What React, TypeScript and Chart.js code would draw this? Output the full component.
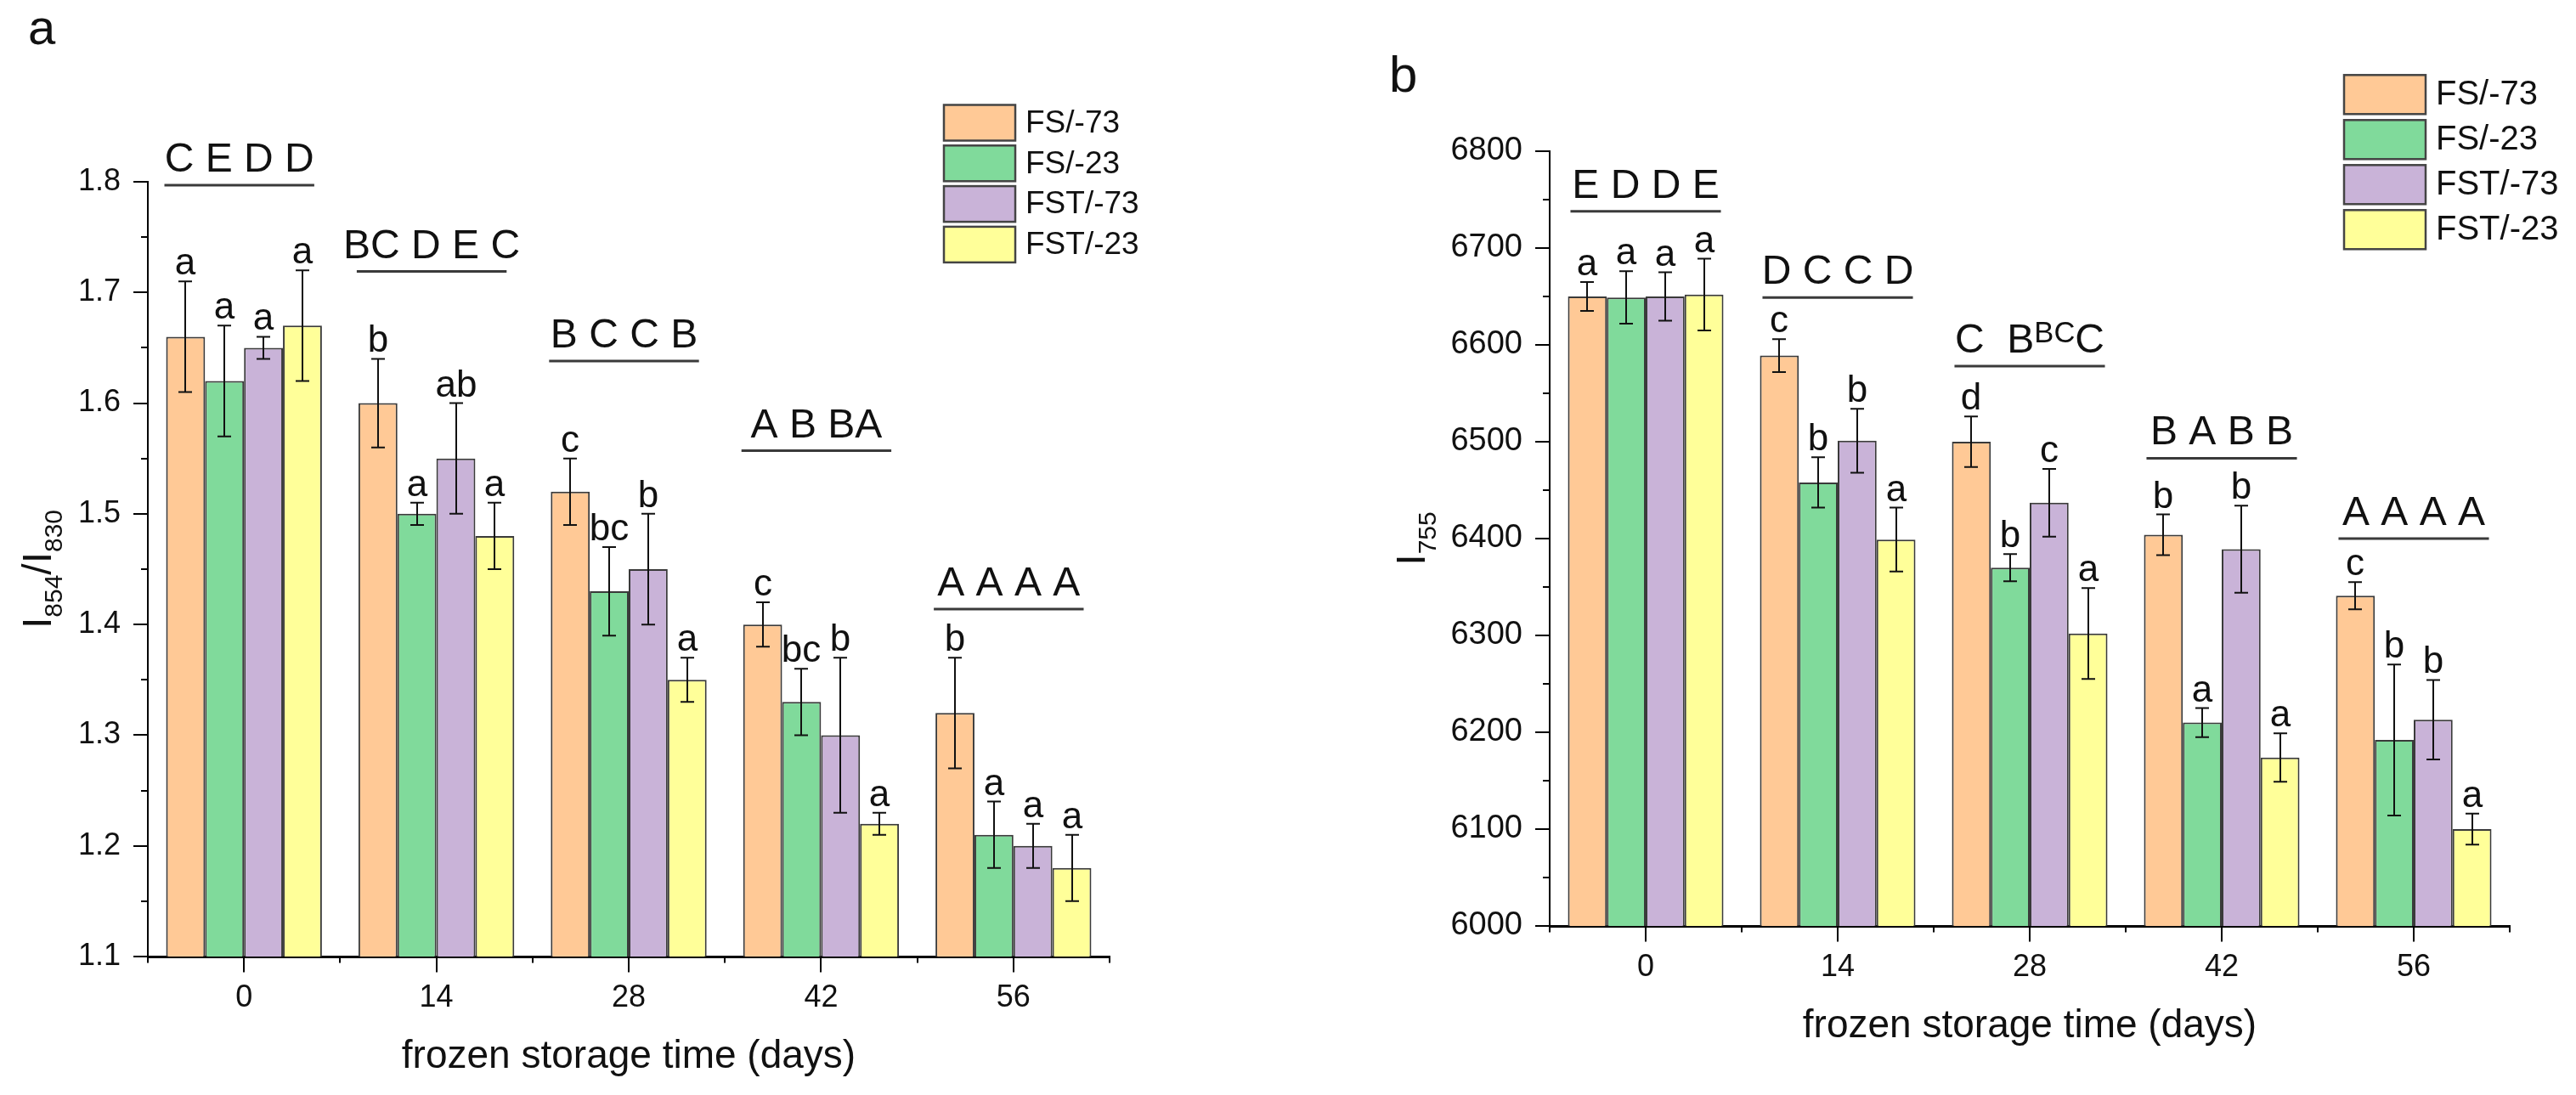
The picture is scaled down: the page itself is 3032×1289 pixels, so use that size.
import React, { useEffect, useRef } from "react";
import { Chart, registerables } from "chart.js";

Chart.register(...registerables);

const FONT = '"Liberation Sans", Arial, Helvetica, sans-serif';
Chart.defaults.font.family = FONT;

// ---------- shared ----------
const days = ["0", "14", "28", "42", "56"];
const seriesNames = ["FS/-73", "FS/-23", "FST/-73", "FST/-23"];
const seriesColors = ["#FFC996", "#80DA9B", "#C9B3D8", "#FFFF99"];
const xTitle = "frozen storage time (days)";

// ---------- panel a : I854/I830 ----------
const ratioFS73 = [1.66, 1.6, 1.52, 1.4, 1.32];
const ratioFS23 = [1.62, 1.5, 1.43, 1.33, 1.21];
const ratioFST73 = [1.65, 1.55, 1.45, 1.3, 1.2];
const ratioFST23 = [1.67, 1.48, 1.35, 1.22, 1.18];

const ratioErrFS73 = [0.05, 0.04, 0.03, 0.02, 0.05];
const ratioErrFS23 = [0.05, 0.01, 0.04, 0.03, 0.03];
const ratioErrFST73 = [0.01, 0.05, 0.05, 0.07, 0.02];
const ratioErrFST23 = [0.05, 0.03, 0.02, 0.01, 0.03];

const ratioLetFS73 = ["a", "b", "c", "c", "b"];
const ratioLetFS23 = ["a", "a", "bc", "bc", "a"];
const ratioLetFST73 = ["a", "ab", "b", "b", "a"];
const ratioLetFST23 = ["a", "a", "a", "a", "a"];

const ratioGroupLetters = ["C E D D", "BC D E C", "B C C B", "A B BA", "A A A A"];
const ratioGroupLevel = [1.797, 1.719, 1.638, 1.557, 1.414];
const ratioYTitle = ["I", "854", "/I", "830"];

// ---------- panel b : I755 ----------
const intFS73 = [6650, 6589, 6500, 6404, 6341];
const intFS23 = [6649, 6458, 6370, 6210, 6192];
const intFST73 = [6650, 6501, 6437, 6389, 6213];
const intFST23 = [6652, 6399, 6302, 6174, 6100];

const intErrFS73 = [15, 17, 26, 21, 14];
const intErrFS23 = [27, 26, 14, 15, 78];
const intErrFST73 = [25, 33, 35, 45, 41];
const intErrFST23 = [37, 33, 47, 25, 16];

const intLetFS73 = ["a", "c", "d", "b", "c"];
const intLetFS23 = ["a", "b", "b", "a", "b"];
const intLetFST73 = ["a", "b", "c", "b", "b"];
const intLetFST23 = ["a", "a", "a", "a", "a"];

const intGroupLetters = ["E D D E", "D C C D", "C  B^BC^C", "B A B B", "A A A A"];
const intGroupLevel = [6738, 6649, 6578, 6483, 6400];
const intYTitle = ["I", "755"];

type Spec = {
  id: string;
  panel: string;
  left: number;
  width: number;
  height: number;
  values: number[][];
  errors: number[][];
  letters: string[][];
  groupLetters: string[];
  groupLevel: number[];
  yTitle: string[];
  yMin: number;
  yMax: number;
  yStep: number;
  decimals: number;
  pad: { top: number; right: number; bottom: number };
  yAxisWidth: number;
  tickSize: number;
  yTitleBaseX: number;
  underlineOff: [number, number];
  legend: { x: number; y: number; w: number; h: number; step: number; font: number };
  panelLabel: { x: number; y: number; size: number };
};

const specA: Spec = {
  id: "a",
  panel: "a",
  left: 0,
  width: 1540,
  height: 1289,
  values: [ratioFS73, ratioFS23, ratioFST73, ratioFST23],
  errors: [ratioErrFS73, ratioErrFS23, ratioErrFST73, ratioErrFST23],
  letters: [ratioLetFS73, ratioLetFS23, ratioLetFST73, ratioLetFST23],
  groupLetters: ratioGroupLetters,
  groupLevel: ratioGroupLevel,
  yTitle: ratioYTitle,
  yMin: 1.1,
  yMax: 1.8,
  yStep: 0.1,
  decimals: 1,
  pad: { top: 214, right: 234, bottom: 13 },
  yAxisWidth: 174,
  tickSize: 36,
  yTitleBaseX: 60,
  underlineOff: [-2, -9],
  legend: { x: 1111, y: 123.5, w: 84, h: 42, step: 47.8, font: 37 },
  panelLabel: { x: 33, y: 52, size: 58 },
};

const specB: Spec = {
  id: "b",
  panel: "b",
  left: 1540,
  width: 1492,
  height: 1289,
  values: [intFS73, intFS23, intFST73, intFST23],
  errors: [intErrFS73, intErrFS23, intErrFST73, intErrFST23],
  letters: [intLetFS73, intLetFS23, intLetFST73, intLetFST23],
  groupLetters: intGroupLetters,
  groupLevel: intGroupLevel,
  yTitle: intYTitle,
  yMin: 6000,
  yMax: 6800,
  yStep: 100,
  decimals: 0,
  pad: { top: 178, right: 78, bottom: 49 },
  yAxisWidth: 284,
  tickSize: 38,
  yTitleBaseX: 137,
  underlineOff: [3, -3],
  legend: { x: 1219, y: 88.3, w: 96, h: 46, step: 53, font: 40 },
  panelLabel: { x: 95, y: 108, size: 60 },
};

function font(size: number) {
  return `${size}px ${FONT}`;
}

function drawMarkup(ctx: CanvasRenderingContext2D, text: string, cx: number, baseY: number, size: number) {
  const parts = text.split("^");
  const sizes = parts.map((_, k) => (k % 2 ? size * 0.72 : size));
  const widths = parts.map((p, k) => {
    ctx.font = font(sizes[k]);
    return ctx.measureText(p).width;
  });
  const total = widths.reduce((a, b) => a + b, 0);
  let x = cx - total / 2;
  ctx.textAlign = "left";
  ctx.textBaseline = "alphabetic";
  parts.forEach((p, k) => {
    ctx.font = font(sizes[k]);
    ctx.fillText(p, x, k % 2 ? baseY - 12 : baseY);
    x += widths[k];
  });
}

function makePlugin(s: Spec) {
  return {
    id: "annot" + s.id,
    afterDatasetsDraw(chart: any) {
      const ctx: CanvasRenderingContext2D = chart.ctx;
      const ys = chart.scales.y;
      ctx.save();
      ctx.strokeStyle = "#111";
      ctx.fillStyle = "#111";
      ctx.lineWidth = 2;
      s.values.forEach((vals, di) => {
        const meta = chart.getDatasetMeta(di);
        meta.data.forEach((bar: any, i: number) => {
          const v = vals[i];
          const e = s.errors[di][i];
          const x = Math.round(bar.x);
          const yt = ys.getPixelForValue(v + e);
          const yb = ys.getPixelForValue(v - e);
          ctx.beginPath();
          ctx.moveTo(x, yt);
          ctx.lineTo(x, yb);
          ctx.moveTo(x - 8, yt);
          ctx.lineTo(x + 8, yt);
          ctx.moveTo(x - 8, yb);
          ctx.lineTo(x + 8, yb);
          ctx.stroke();
          ctx.font = font(44);
          ctx.textAlign = "center";
          ctx.textBaseline = "alphabetic";
          ctx.fillText(s.letters[di][i], x, yt - 8);
        });
      });
      ctx.restore();
    },
    afterDraw(chart: any) {
      const ctx: CanvasRenderingContext2D = chart.ctx;
      const xs = chart.scales.x;
      const ys = chart.scales.y;
      const area = chart.chartArea;
      ctx.save();
      ctx.strokeStyle = "#000";
      ctx.lineWidth = 2;
      // x ticks: major at category centres, minor at boundaries
      const axisY = area.bottom + 1.5;
      for (let i = 0; i < days.length; i++) {
        const px = Math.round(xs.getPixelForValue(i));
        ctx.beginPath();
        ctx.moveTo(px, axisY);
        ctx.lineTo(px, axisY + 17);
        ctx.stroke();
      }
      for (let i = 0; i <= days.length; i++) {
        const px = Math.round(xs.getPixelForValue(i - 0.5));
        ctx.beginPath();
        ctx.moveTo(px, axisY);
        ctx.lineTo(px, axisY + 6);
        ctx.stroke();
      }
      // y ticks: major at labelled steps, minor halfway
      const nHalf = Math.round(((s.yMax - s.yMin) / s.yStep) * 2);
      for (let k = 0; k <= nHalf; k++) {
        const v = s.yMin + (k * s.yStep) / 2;
        const py = Math.round(ys.getPixelForValue(v));
        const len = k % 2 === 0 ? 16 : 7;
        ctx.beginPath();
        ctx.moveTo(area.left - 1, py);
        ctx.lineTo(area.left - 1 - len, py);
        ctx.stroke();
      }

      // group letters and underline
      ctx.fillStyle = "#111";
      const first = chart.getDatasetMeta(0).data;
      const last = chart.getDatasetMeta(s.values.length - 1).data;
      for (let i = 0; i < days.length; i++) {
        const l = first[i].x - first[i].width / 2 + s.underlineOff[0];
        const r = last[i].x + last[i].width / 2 + s.underlineOff[1];
        const py = ys.getPixelForValue(s.groupLevel[i]);
        ctx.strokeStyle = "#3a3a3a";
        ctx.lineWidth = 3;
        ctx.beginPath();
        ctx.moveTo(l, py);
        ctx.lineTo(r, py);
        ctx.stroke();
        drawMarkup(ctx, s.groupLetters[i], (l + r) / 2, py - 16, 48);
      }

      // y title with subscripts
      const mainSize = 48;
      const subSize = 30;
      const segW = s.yTitle.map((t, k) => {
        ctx.font = font(k % 2 ? subSize : mainSize);
        return ctx.measureText(t).width;
      });
      const totW = segW.reduce((a, b) => a + b, 0);
      const cy = (area.top + area.bottom) / 2;
      ctx.save();
      ctx.translate(s.yTitleBaseX, cy);
      ctx.rotate(-Math.PI / 2);
      ctx.textAlign = "left";
      ctx.textBaseline = "alphabetic";
      let u = -totW / 2;
      s.yTitle.forEach((t, k) => {
        ctx.font = font(k % 2 ? subSize : mainSize);
        ctx.fillText(t, u, k % 2 ? 13 : 0);
        u += segW[k];
      });
      ctx.restore();

      // legend
      const lg = s.legend;
      seriesNames.forEach((name, k) => {
        const by = lg.y + k * lg.step;
        ctx.fillStyle = seriesColors[k];
        ctx.fillRect(lg.x, by, lg.w, lg.h);
        ctx.strokeStyle = "#444";
        ctx.lineWidth = 2.5;
        ctx.strokeRect(lg.x, by, lg.w, lg.h);
        ctx.fillStyle = "#111";
        ctx.font = font(lg.font);
        ctx.textAlign = "left";
        ctx.textBaseline = "middle";
        ctx.fillText(name, lg.x + lg.w + 12, by + lg.h / 2 + 1);
      });

      // panel label
      ctx.fillStyle = "#111";
      ctx.font = font(s.panelLabel.size);
      ctx.textAlign = "left";
      ctx.textBaseline = "alphabetic";
      ctx.fillText(s.panel, s.panelLabel.x, s.panelLabel.y);
      ctx.restore();
    },
  };
}

function Panel({ s }: { s: Spec }) {
  const ref = useRef<HTMLCanvasElement>(null);
  useEffect(() => {
    if (!ref.current) return;
    const chart = new Chart(ref.current, {
      type: "bar",
      data: {
        labels: days,
        datasets: seriesNames.map((name, k) => ({
          label: name,
          data: s.values[k],
          backgroundColor: seriesColors[k],
          borderColor: "#3a3a3a",
          borderWidth: 2,
          categoryPercentage: 0.81,
          barPercentage: 1,
        })),
      },
      options: {
        animation: false,
        responsive: true,
        maintainAspectRatio: false,
        layout: { padding: { left: 0, top: s.pad.top, right: s.pad.right, bottom: s.pad.bottom } },
        plugins: { legend: { display: false }, tooltip: { enabled: false }, title: { display: false } },
        scales: {
          x: {
            type: "category",
            offset: true,
            grid: { display: false, drawTicks: false },
            border: { display: true, color: "#000", width: 3 },
            ticks: { color: "#111", font: { size: 36 }, padding: 27, maxRotation: 0, autoSkip: false },
            title: {
              display: true,
              text: xTitle,
              color: "#111",
              font: { size: 46 },
              padding: { top: 0, bottom: 4 },
            },
            afterFit: (sc: any) => {
              sc.height = 150;
            },
          },
          y: {
            type: "linear",
            min: s.yMin,
            max: s.yMax,
            grid: { display: false, drawTicks: false },
            border: { display: true, color: "#000", width: 2 },
            ticks: {
              stepSize: s.yStep,
              color: "#111",
              font: { size: s.tickSize },
              padding: 32,
              callback: (v: any) => Number(v).toFixed(s.decimals),
            },
            afterFit: (sc: any) => {
              sc.width = s.yAxisWidth;
            },
          },
        },
      } as any,
      plugins: [makePlugin(s)],
    });
    return () => chart.destroy();
  }, [s]);
  return (
    <div style={{ position: "absolute", left: s.left, top: 0, width: s.width, height: s.height }}>
      <canvas ref={ref} />
    </div>
  );
}

export default function App() {
  return (
    <div style={{ position: "fixed", left: 0, top: 0, width: 3032, height: 1289, background: "#fff", overflow: "hidden" }}>
      <Panel s={specA} />
      <Panel s={specB} />
    </div>
  );
}
